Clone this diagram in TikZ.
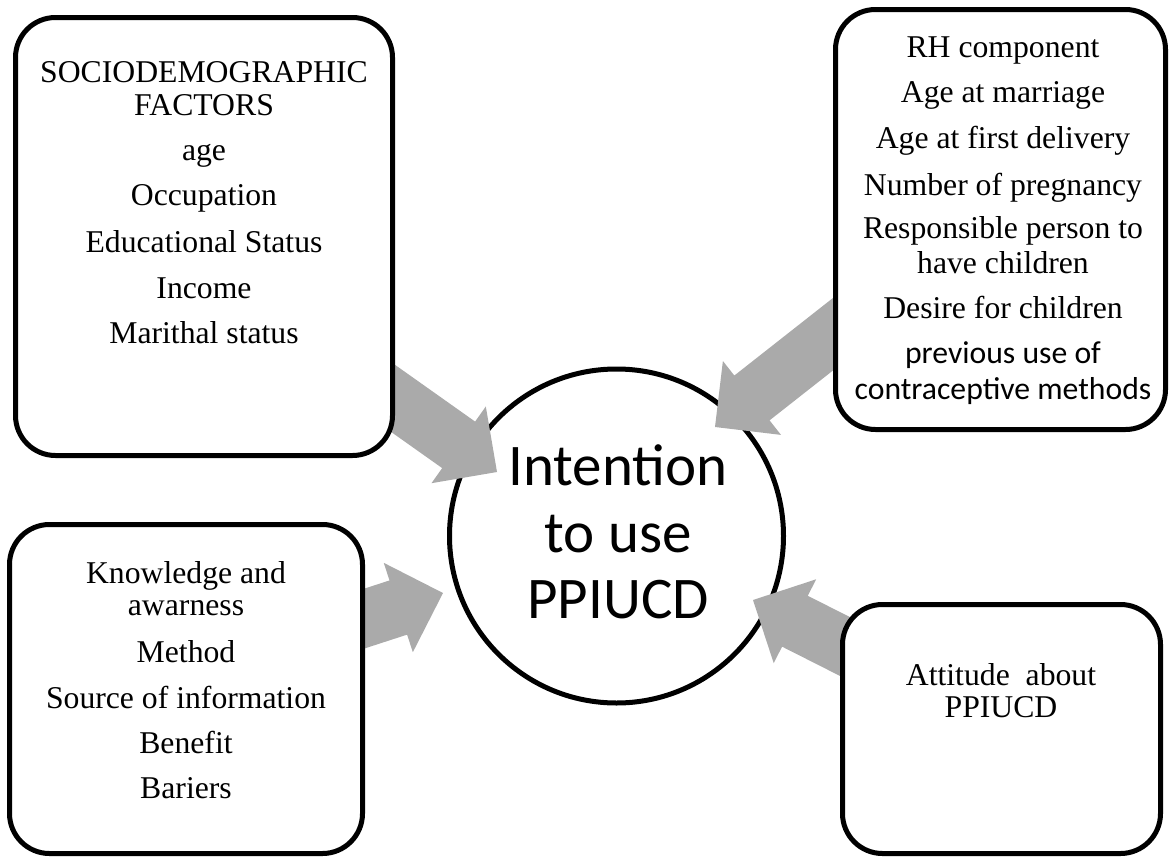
\documentclass[tikz,border=0pt]{standalone}
\usepackage{fontspec}
\setmainfont{Liberation Serif}
\newfontfamily\calibrifont{Carlito}
\usetikzlibrary{calc}
\definecolor{arrowgray}{RGB}{170,170,170}
\tikzset{
  boxshape/.style={draw=black, line width=5pt, rounded corners=40pt, fill=white, inner sep=0pt},
  hubshape/.style={circle, draw=black, line width=5pt, fill=white, inner sep=0pt, minimum size=334pt},
  itemtext/.style={anchor=base, inner sep=0pt, font=\fontsize{31.7}{38}\selectfont},
  sanstext/.style={anchor=base, inner sep=0pt, font=\calibrifont\fontsize{31.7}{38}\selectfont},
  bigtext/.style={anchor=base, inner sep=0pt, font=\calibrifont\fontsize{59}{66}\selectfont},
  blockfill/.style={fill=arrowgray},
}
\newcommand\blockarrow[2]{%
  \coordinate (#1-h) at ($(#2)!47pt!(#1)$);
  \fill[blockfill] ($(#1)!28.5pt!90:(#2)$) -- ($(#1-h)!28.5pt!90:(#2)$) -- ($(#1-h)!47pt!90:(#2)$) -- (#2)
     -- ($(#1-h)!47pt!-90:(#2)$) -- ($(#1-h)!28.5pt!-90:(#2)$) -- ($(#1)!28.5pt!-90:(#2)$) -- cycle;
}
\begin{document}
\begin{tikzpicture}[x=1pt,y=-1pt]
\useasboundingbox (0,0) rectangle (1171,860);
% central hub
\node[hubshape] (c) at (616.5,536) {};
\node[bigtext] (c1) at (618,485) {Intention};
\node[bigtext] (c2) at (618,552) {to use};
\node[bigtext] (c3) at (618,618) {PPIUCD};
% arrow end points
\coordinate (a1s) at (366.4,379.5);
\coordinate (a1t) at (497,472);
\coordinate (a2s) at (864.3,309.6);
\coordinate (a2t) at (715,427);
\coordinate (a3s) at (328.9,630.1);
\coordinate (a3t) at (443,593);
\coordinate (a4s) at (873.4,660.9);
\coordinate (a4t) at (753,600);
\blockarrow{a1s}{a1t}
\blockarrow{a2s}{a2t}
\blockarrow{a3s}{a3t}
\blockarrow{a4s}{a4t}
% boxes
\node[boxshape, minimum width=377pt, minimum height=438pt] (tl) at (204,236.5) {};
\node[boxshape, minimum width=330pt, minimum height=420pt] (tr) at (1000.5,219.5) {};
\node[boxshape, minimum width=353pt, minimum height=329pt] (bl) at (186,689) {};
\node[boxshape, minimum width=318pt, minimum height=249pt] (br) at (1001.5,729) {};
% texts
\foreach \y/\t [count=\i] in {82/SOCIODEMOGRAPHIC, 115/FACTORS, 160/age, 205/Occupation,
  252/Educational Status, 298/Income, 343/Marithal status}
  \node[itemtext] (tl\i) at (204,\y) {\t};
\foreach \y/\t [count=\i] in {57/RH component, 102/Age at marriage, 148/Age at first delivery,
  195/Number of pregnancy, 238/Responsible person to, 273/have children, 318/Desire for children}
  \node[itemtext] (tr\i) at (1003,\y) {\t};
\node[sanstext] (tr8) at (1003,363) {previous use of};
\node[sanstext] (tr9) at (1003,399) {contraceptive methods};
\foreach \y/\t [count=\i] in {583/Knowledge and, 615/awarness, 662/Method,
  708/Source of information, 753/Benefit, 798/Bariers}
  \node[itemtext] (bl\i) at (186,\y) {\t};
\node[itemtext] (br1) at (1001,685) {Attitude~ about};
\node[itemtext] (br2) at (1001,717) {PPIUCD};
\end{tikzpicture}
\end{document}
